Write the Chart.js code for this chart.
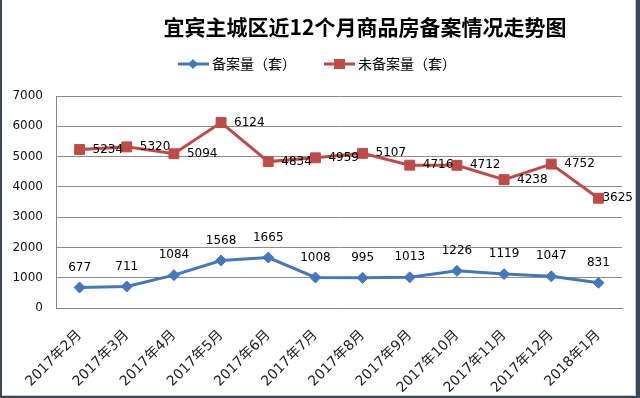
<!DOCTYPE html>
<html>
<head>
<meta charset="utf-8">
<script src="https://cdn.jsdelivr.net/npm/chart.js@4"></script>
<style>
    body { margin: 0; width: 640px; height: 398px; overflow: hidden; position: relative; background: #3b4756; }
    #marco { position: absolute; left: 2px; top: 0; width: 633px; height: 395px; background: #fff;
             border-right: 1px solid #c9c9c9; border-bottom: 1px solid #c9c9c9; }
</style>
</head>
<body>
<div id="marco"><canvas id="grafica" width="633" height="395"></canvas></div>
<script>
// Datos de la gráfica
const meses = ['2017年2月', '2017年3月', '2017年4月', '2017年5月', '2017年6月', '2017年7月',
               '2017年8月', '2017年9月', '2017年10月', '2017年11月', '2017年12月', '2018年1月'];
const beian = [677, 711, 1084, 1568, 1665, 1008, 995, 1013, 1226, 1119, 1047, 831];
const weiBeian = [5234, 5320, 5094, 6124, 4834, 4959, 5107, 4716, 4712, 4238, 4752, 3625];
const nombresSeries = ['备案量（套）', '未备案量（套）'];
const titulo = '宜宾主城区近12个月商品房备案情况走势图';
const ejeYMax = 7000;
const ejeYPaso = 1000;

const AZUL = '#4477bb';
const ROJO = '#be4b48';
const fuenteNum = '"DejaVu Sans", "Noto Sans CJK SC", sans-serif';

// Título y leyenda dibujados a mano (línea + marcador como en Excel)
const cabecera = {
    id: 'cabecera',
    afterDraw(chart) {
        const ctx = chart.ctx;
        ctx.save();
        ctx.fillStyle = '#000';
        ctx.font = 'bold 21px "Noto Sans CJK SC"';
        ctx.textAlign = 'center';
        ctx.textBaseline = 'middle';
        ctx.fillText(titulo, 363, 27);

        const y = 64;
        const inicios = [176, 322];
        ctx.font = '14px "Noto Sans CJK SC"';
        ctx.textAlign = 'left';
        chart.data.datasets.forEach((ds, i) => {
            const x = inicios[i];
            ctx.strokeStyle = ds.borderColor;
            ctx.lineWidth = 3;
            ctx.beginPath();
            ctx.moveTo(x, y);
            ctx.lineTo(x + 31, y);
            ctx.stroke();
            ctx.fillStyle = ds.pointBackgroundColor;
            ctx.beginPath();
            if (ds.pointStyle === 'rectRot') {
                ctx.moveTo(x + 15, y - 5);
                ctx.lineTo(x + 20, y);
                ctx.lineTo(x + 15, y + 5);
                ctx.lineTo(x + 10, y);
                ctx.closePath();
            } else {
                ctx.rect(x + 10, y - 5, 11, 10);
            }
            ctx.fill();
            ctx.fillStyle = '#000';
            ctx.fillText(ds.label, x + 34, y);
        });
        ctx.restore();
    }
};

// Etiquetas de valores sobre los puntos
const etiquetasDatos = {
    id: 'etiquetasDatos',
    afterDatasetsDraw(chart) {
        const ctx = chart.ctx;
        ctx.save();
        ctx.font = '12px ' + fuenteNum;
        ctx.fillStyle = '#000';
        ctx.textBaseline = 'middle';
        chart.data.datasets.forEach((ds, i) => {
            const meta = chart.getDatasetMeta(i);
            meta.data.forEach((p, j) => {
                const txt = String(ds.data[j]);
                if (i === 0) {
                    ctx.textAlign = 'center';
                    ctx.fillText(txt, p.x, p.y - 20);
                } else {
                    ctx.textAlign = 'left';
                    const w = ctx.measureText(txt).width;
                    let x = p.x + 13;
                    if (x + w > 631) x = 631 - w;
                    ctx.fillText(txt, x, p.y);
                }
            });
        });
        ctx.restore();
    }
};

const ctx = document.getElementById('grafica').getContext('2d');
new Chart(ctx, {
    type: 'line',
    data: {
        labels: meses,
        datasets: [{
            label: nombresSeries[0],
            data: beian,
            borderColor: AZUL,
            backgroundColor: AZUL,
            pointBackgroundColor: AZUL,
            pointBorderColor: AZUL,
            borderWidth: 3,
            pointStyle: 'rectRot',
            pointRadius: 5.5,
            pointBorderWidth: 1,
            tension: 0
        }, {
            label: nombresSeries[1],
            data: weiBeian,
            borderColor: ROJO,
            backgroundColor: ROJO,
            pointBackgroundColor: ROJO,
            pointBorderColor: ROJO,
            borderWidth: 3,
            pointStyle: 'rect',
            pointRadius: 7,
            pointBorderWidth: 1,
            tension: 0
        }]
    },
    options: {
        responsive: false,
        animation: false,
        devicePixelRatio: 1,
        layout: { padding: { top: 96, right: 13, left: 0, bottom: 0 } },
        plugins: {
            legend: { display: false },
            title: { display: false },
            tooltip: { enabled: false }
        },
        scales: {
            x: {
                offset: true,
                afterFit: (scale) => { scale.height = 87; },
                grid: { display: false, drawTicks: false },
                border: { display: true, color: '#868686', width: 1 },
                ticks: {
                    maxRotation: 45,
                    minRotation: 45,
                    autoSkip: false,
                    padding: 19,
                    color: '#222',
                    font: { family: fuenteNum, size: 14 }
                }
            },
            y: {
                min: 0,
                max: ejeYMax,
                afterFit: (scale) => { scale.width = 54; },
                grid: { color: '#8c8c8c', lineWidth: 1, drawTicks: false },
                border: { display: true, color: '#868686', width: 1 },
                ticks: {
                    stepSize: ejeYPaso,
                    padding: 13,
                    color: '#111',
                    font: { family: fuenteNum, size: 12 },
                    callback: (v) => String(v)
                }
            }
        }
    },
    plugins: [cabecera, etiquetasDatos]
});
</script>
</body>
</html>
